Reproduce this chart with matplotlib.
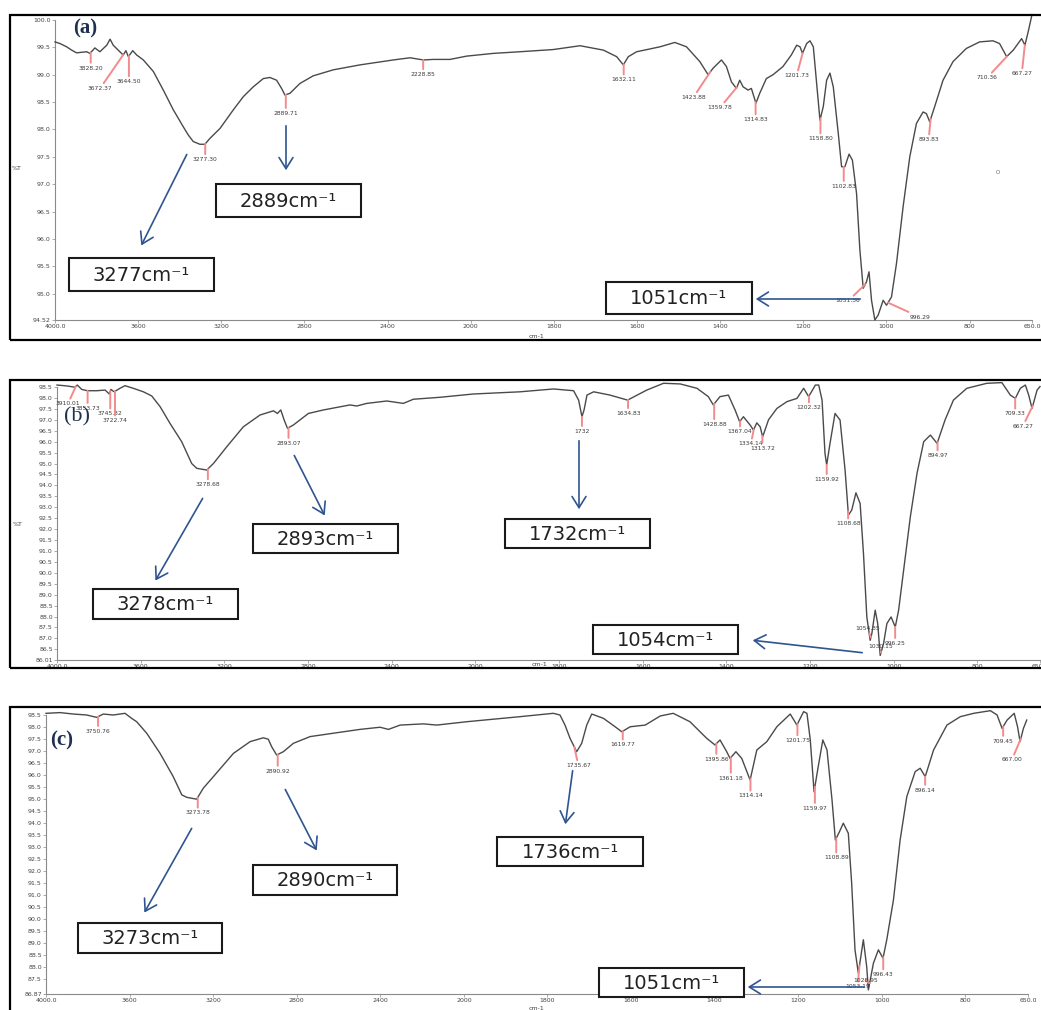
import numpy as np
import matplotlib
matplotlib.use("Agg")
import matplotlib.pyplot as plt
from matplotlib.patches import Rectangle, FancyArrowPatch

W, H = 1041, 1010

# ---- spectrum (a) ----
a_wn = [4000, 3976, 3944, 3920, 3896, 3848, 3832, 3808, 3784, 3751,
        3735, 3720, 3696, 3672, 3659, 3647, 3626, 3607, 3575, 3527,
        3479, 3431, 3383, 3359, 3335, 3303, 3279, 3254, 3206, 3142,
        3094, 3046, 2998, 2966, 2934, 2910, 2894, 2870, 2822, 2758,
        2661, 2533, 2373, 2292, 2228, 2180, 2100, 2020, 1946, 1882,
        1802, 1737, 1681, 1649, 1633, 1621, 1601, 1545, 1509, 1481,
        1449, 1429, 1417, 1397, 1385, 1373, 1361, 1353, 1345, 1333,
        1325, 1314, 1305, 1289, 1273, 1249, 1229, 1216, 1208, 1202,
        1192, 1184, 1176, 1168, 1160, 1152, 1144, 1136, 1128, 1116,
        1108, 1100, 1090, 1082, 1072, 1064, 1056, 1048, 1042, 1036,
        1028, 1020, 1008, 1000, 988, 976, 960, 944, 928, 912,
        904, 896, 884, 864, 840, 808, 776, 744, 728, 711,
        695, 675, 667, 659, 650]
a_T = [99.60, 99.57, 99.51, 99.45, 99.40, 99.42, 99.39, 99.49, 99.42, 99.54,
       99.65, 99.54, 99.45, 99.36, 99.44, 99.33, 99.44, 99.36, 99.27, 99.06,
       98.72, 98.36, 98.05, 97.90, 97.78, 97.73, 97.73, 97.84, 98.02, 98.36,
       98.60, 98.78, 98.93, 98.95, 98.90, 98.75, 98.63, 98.66, 98.84, 98.98,
       99.09, 99.18, 99.27, 99.31, 99.27, 99.28, 99.28, 99.34, 99.39, 99.42,
       99.46, 99.53, 99.45, 99.33, 99.18, 99.33, 99.42, 99.51, 99.59, 99.51,
       99.24, 99.00, 99.12, 99.27, 99.15, 98.87, 98.75, 98.90, 98.78, 98.72,
       98.75, 98.48, 98.66, 98.93, 99.00, 99.15, 99.36, 99.54, 99.51, 99.39,
       99.57, 99.62, 99.51, 98.84, 98.17, 98.42, 98.90, 99.03, 98.78, 97.93,
       97.32, 97.32, 97.55, 97.44, 96.83, 95.80, 95.10, 95.22, 95.40, 94.88,
       94.52, 94.61, 94.88, 94.79, 94.94, 95.55, 96.59, 97.50, 98.11, 98.32,
       98.29, 98.14, 98.42, 98.90, 99.24, 99.48, 99.60, 99.62, 99.57, 99.33,
       99.45, 99.66, 99.54, 99.79, 100.10]
a_pk_x = [3828.20, 3672.37, 3644.50, 3277.30, 2889.71, 2228.85, 1632.11, 1423.88,
          1359.78, 1314.83, 1201.73, 1158.80, 1102.83, 1051.36, 996.29, 893.83,
          710.36, 667.27]
a_pk_txt = ["3828.20", "3672.37", "3644.50", "3277.30", "2889.71", "2228.85",
            "1632.11", "1423.88", "1359.78", "1314.83", "1201.73", "1158.80",
            "1102.83", "1051.36", "996.29", "893.83", "710.36", "667.27"]

# ---- spectrum (b) ----
b_wn = [4000, 3954, 3914, 3903, 3882, 3855, 3810, 3770, 3750, 3742,
        3727, 3699, 3675, 3635, 3587, 3547, 3507, 3460, 3404, 3356,
        3332, 3284, 3252, 3188, 3109, 3029, 2965, 2946, 2930, 2914,
        2898, 2870, 2798, 2726, 2599, 2567, 2519, 2423, 2344, 2296,
        2168, 2009, 1893, 1813, 1765, 1753, 1745, 1740, 1733, 1717,
        1678, 1636, 1590, 1550, 1510, 1470, 1443, 1431, 1415, 1395,
        1379, 1368, 1359, 1343, 1335, 1327, 1319, 1313, 1299, 1279,
        1255, 1231, 1215, 1203, 1187, 1179, 1171, 1164, 1160, 1152,
        1140, 1128, 1116, 1108, 1100, 1090, 1080, 1072, 1064, 1056,
        1052, 1044, 1038, 1032, 1024, 1016, 1006, 996, 988, 976,
        960, 944, 928, 912, 896, 877, 857, 825, 777, 741,
        721, 709, 697, 685, 677, 669, 657, 650]
b_T = [98.59, 98.55, 98.49, 98.59, 98.39, 98.33, 98.33, 98.36, 98.18, 98.39,
       98.28, 98.44, 98.56, 98.44, 98.28, 98.09, 97.60, 96.84, 96.00, 95.00,
       94.78, 94.70, 95.00, 95.77, 96.68, 97.22, 97.41, 97.29, 97.45, 96.99,
       96.61, 96.76, 97.29, 97.45, 97.68, 97.63, 97.75, 97.86, 97.75, 97.94,
       98.03, 98.18, 98.28, 98.41, 98.33, 97.90, 97.14, 97.45, 98.13, 98.28,
       98.13, 97.90, 98.36, 98.67, 98.64, 98.44, 98.06, 97.68, 98.06, 98.13,
       97.45, 96.91, 97.14, 96.76, 96.53, 96.86, 96.68, 96.22, 97.00, 97.52,
       97.83, 97.98, 98.44, 98.06, 98.59, 98.59, 97.90, 95.46, 94.93, 95.92,
       97.29, 96.99, 94.70, 92.64, 92.87, 93.66, 93.17, 90.88, 87.98, 86.91,
       87.22, 88.29, 87.68, 86.22, 86.76, 87.68, 87.98, 87.52, 88.29, 90.12,
       92.56, 94.55, 96.00, 96.30, 95.92, 96.99, 97.90, 98.44, 98.67, 98.70,
       98.13, 97.98, 98.44, 98.59, 98.13, 97.52, 98.36, 98.52]
b_pk_x = [3910.01, 3853.73, 3745.32, 3722.74, 3278.68, 2893.07, 1745, 1634.83,
          1428.88, 1367.04, 1334.14, 1313.72, 1202.32, 1159.92, 1108.68, 1054.35,
          1030.15, 996.25, 894.97, 709.33, 667.27]
b_pk_txt = ["3910.01", "3853.73", "3745.32", "3722.74", "3278.68", "2893.07",
            "1732", "1634.83", "1428.88", "1367.04", "1334.14", "1313.72",
            "1202.32", "1159.92", "1108.68", "1054.35", "1030.15", "996.25",
            "894.97", "709.33", "667.27"]

# ---- spectrum (c) ----
c_wn = [4000, 3933, 3869, 3805, 3757, 3726, 3678, 3622, 3590, 3566,
        3518, 3454, 3391, 3350, 3327, 3279, 3247, 3199, 3103, 3023,
        2960, 2936, 2920, 2896, 2864, 2816, 2736, 2625, 2497, 2401,
        2361, 2305, 2194, 2130, 1993, 1866, 1786, 1770, 1758, 1746,
        1730, 1718, 1706, 1694, 1666, 1638, 1622, 1602, 1566, 1530,
        1499, 1459, 1419, 1399, 1387, 1371, 1363, 1349, 1335, 1315,
        1299, 1275, 1251, 1219, 1203, 1187, 1179, 1171, 1162, 1152,
        1141, 1131, 1119, 1111, 1101, 1092, 1080, 1072, 1064, 1056,
        1044, 1036, 1032, 1020, 1008, 997, 988, 972, 956, 940,
        920, 908, 896, 876, 844, 812, 780, 740, 724, 712,
        700, 683, 675, 669, 661, 653]
c_T = [98.57, 98.60, 98.54, 98.50, 98.40, 98.54, 98.50, 98.57, 98.36, 98.22,
       97.74, 96.90, 95.93, 95.17, 95.07, 94.99, 95.45, 95.93, 96.90, 97.39,
       97.55, 97.49, 97.18, 96.83, 96.97, 97.32, 97.60, 97.74, 97.90, 97.99,
       97.90, 98.08, 98.13, 98.08, 98.22, 98.43, 98.57, 98.50, 98.08, 97.53,
       96.97, 97.32, 98.08, 98.54, 98.36, 98.01, 97.80, 98.01, 98.08, 98.46,
       98.57, 98.22, 97.53, 97.25, 97.46, 96.97, 96.69, 96.97, 96.69, 95.79,
       97.04, 97.39, 98.01, 98.54, 98.08, 98.64, 98.57, 97.46, 95.30, 96.35,
       97.46, 97.04, 94.96, 93.29, 93.64, 93.99, 93.57, 91.49, 88.71, 87.74,
       89.13, 88.01, 87.04, 88.15, 88.71, 88.36, 89.13, 90.79, 93.29, 95.10,
       96.14, 96.28, 95.93, 97.04, 98.08, 98.43, 98.57, 98.68, 98.50, 97.94,
       98.29, 98.57, 98.01, 97.39, 97.94, 98.29]
c_pk_x = [3750.76, 3273.78, 2890.92, 1735.67, 1619.77, 1395.86, 1361.18, 1314.14,
          1201.75, 1159.97, 1108.89, 1053.19, 1028.95, 996.43, 896.14, 709.45, 667.00]
c_pk_txt = ["3750.76", "3273.78", "2890.92", "1735.67", "1619.77", "1395.86",
            "1361.18", "1314.14", "1201.75", "1159.97", "1108.89", "1053.19",
            "1028.95", "996.43", "896.14", "709.45", "667.00"]

x_ticks = [4000, 3600, 3200, 2800, 2400, 2000, 1800, 1600, 1400, 1200, 1000, 800, 650]
x_tick_lbl = ["4000.0", "3600", "3200", "2800", "2400", "2000", "1800", "1600",
              "1400", "1200", "1000", "800", "650.0"]
a_yticks = [100.0, 99.5, 99.0, 98.5, 98.0, 97.5, 97.0, 96.5, 96.0, 95.5, 95.0, 94.52]
b_yticks = [98.5, 98.0, 97.5, 97.0, 96.5, 96.0, 95.5, 95.0, 94.5, 94.0, 93.5, 93.0,
            92.5, 92.0, 91.5, 91.0, 90.5, 90.0, 89.5, 89.0, 88.5, 88.0, 87.5, 87.0,
            86.5, 86.01]
c_yticks = [98.5, 98.0, 97.5, 97.0, 96.5, 96.0, 95.5, 95.0, 94.5, 94.0, 93.5, 93.0,
            92.5, 92.0, 91.5, 91.0, 90.5, 90.0, 89.5, 89.0, 88.5, 88.0, 87.5, 86.87]

a_calls = ["3277cm⁻¹", "2889cm⁻¹", "1051cm⁻¹"]
b_calls = ["3278cm⁻¹", "2893cm⁻¹", "1732cm⁻¹", "1054cm⁻¹"]
c_calls = ["3273cm⁻¹", "2890cm⁻¹", "1736cm⁻¹", "1051cm⁻¹"]

# layout (pixels from the top-left corner)
a_pk_off = [(0, -13), (-23, -31), (0, -23), (0, -13), (0, -16), (0, -12), (0, -13),
            (-17, -23), (-17, -18), (0, -15), (-6, -20), (0, -18), (0, -17),
            (-17, -14), (32, -12), (-2, -18), (-20, -19), (-3, -26)]
b_pk_off = [(-8, -15), (0, -15), (0, -20), (0, -27), (0, -13), (0, -13), (0, -12),
            (0, -11), (0, -18), (0, -8), (-3, -12), (0, -10), (0, -9), (0, -12),
            (0, -10), (-3, 12), (0, 9), (0, -14), (0, -11), (0, -13), (-10, -18)]
c_pk_off = [(0, -12), (0, -13), (0, -14), (4, -16), (0, -11), (0, -13), (0, -18),
            (0, -15), (0, -14), (0, -19), (0, -17), (-2, -19), (-4, 5), (0, -15),
            (0, -11), (0, -12), (-9, -19)]

a_boxes = [(69, 258, 214, 291), (216, 184, 361, 217), (606, 282, 752, 314)]
b_boxes = [(93, 589, 238, 619), (253, 524, 398, 553), (505, 519, 650, 548), (593, 625, 738, 654)]
c_boxes = [(78, 923, 222, 953), (253, 865, 397, 895), (497, 837, 643, 866), (599, 968, 744, 997)]
a_arrows = [((188, 152), (140, 248)), ((286, 123), (286, 173)), ((863, 299), (753, 299))]
b_arrows = [((204, 496), (154, 583)), ((293, 453), (326, 518)), ((579, 438), (579, 512)),
            ((865, 653), (750, 640))]
c_arrows = [((193, 826), (143, 915)), ((284, 787), (318, 853)), ((573, 768), (565, 827)),
            ((867, 987), (745, 987))]

RED = "#f28b8b"
BLUE = "#2f5590"
GRAY = "#8a8a8a"


def fwd(x):
    x = np.asarray(x, dtype=float)
    return np.where(x >= 2000, x, 2 * x - 2000)


def inv(y):
    y = np.asarray(y, dtype=float)
    return np.where(y >= 2000, y, (y + 2000) / 2)


def P(x, y):
    return x / W, 1 - y / H


fig = plt.figure(figsize=(W / 100, H / 100), dpi=100)


def panel(l, r, t, b, ylim, yticks, wn, T, pk_x, pk_txt, pk_off):
    ax = fig.add_axes([l / W, 1 - b / H, (r - l) / W, (b - t) / H])
    ax.set_xscale("function", functions=(fwd, inv))
    ax.set_xlim(4000, 650)
    ax.set_ylim(*ylim)
    ax.plot(wn, T, color="#4a4a4a", lw=1.0, clip_on=False, zorder=3)
    for s in ("top", "right"):
        ax.spines[s].set_visible(False)
    for s in ("left", "bottom"):
        ax.spines[s].set_color(GRAY)
        ax.spines[s].set_linewidth(0.8)
    ax.set_xticks(x_ticks)
    ax.set_xticklabels(x_tick_lbl)
    ax.set_yticks(yticks)
    ax.set_yticklabels([f"{v:.2f}" if round(v * 2) != v * 2 else f"{v:.1f}" for v in yticks])
    ax.tick_params(length=2, width=0.5, color=GRAY, labelsize=4.5,
                   labelcolor="#444444", pad=1)
    ax.patch.set_alpha(0)
    wr, Tr = np.array(wn[::-1], float), np.array(T[::-1], float)
    for x, txt, (dx, dy) in zip(pk_x, pk_txt, pk_off):
        y = np.interp(x, wr, Tr)
        ax.annotate(txt, xy=(x, y), xytext=(dx, dy), textcoords="offset pixels",
                    ha="center", va="top", fontsize=4.3, color="#3a3a3a",
                    annotation_clip=False, zorder=4,
                    arrowprops=dict(arrowstyle="-", color=RED, lw=1.4,
                                    shrinkA=0, shrinkB=0))
    return ax


def callouts(boxes, arrows, texts):
    for (x0, y0, x1, y1), txt in zip(boxes, texts):
        fig.add_artist(Rectangle(P(x0, y1), (x1 - x0) / W, (y1 - y0) / H,
                                 transform=fig.transFigure, fc="white",
                                 ec="#1a1a1a", lw=1.5, zorder=5))
        fig.text(*P((x0 + x1) / 2, (y0 + y1) / 2 + 1), txt, ha="center", va="center",
                 fontsize=14, color="#222222", zorder=6)
    for tail, head in arrows:
        fig.add_artist(FancyArrowPatch(P(*tail), P(*head), transform=fig.transFigure,
                                       arrowstyle="->,head_length=0.4,head_width=0.25",
                                       mutation_scale=20, color=BLUE, lw=1.2, zorder=5))


# panel frames
for (x0, y0, y1) in [(10, 15, 340), (10, 380, 668), (10, 707, 1015)]:
    fig.add_artist(Rectangle(P(x0, y1), (1046 - x0) / W, (y1 - y0) / H,
                             transform=fig.transFigure, fill=False, ec="black", lw=1.6))

panel(55, 1032, 20, 320, (94.52, 100.0), a_yticks, a_wn, a_T, a_pk_x, a_pk_txt, a_pk_off)
panel(57, 1040, 387, 660, (86.01, 98.5), b_yticks, b_wn, b_T, b_pk_x, b_pk_txt, b_pk_off)
panel(46, 1028, 715, 994, (86.87, 98.5), c_yticks, c_wn, c_T, c_pk_x, c_pk_txt, c_pk_off)

callouts(a_boxes, a_arrows, a_calls)
callouts(b_boxes, b_arrows, b_calls)
callouts(c_boxes, c_arrows, c_calls)

# panel letters, axis labels
fig.text(*P(85, 28), "(a)", ha="center", va="center", fontsize=15, fontweight="bold",
         family="Liberation Serif", color="#1f3050")
fig.text(*P(77, 417), "(b)", ha="center", va="center", fontsize=16,
         family="Liberation Serif", color="#1f3050")
fig.text(*P(62, 740), "(c)", ha="center", va="center", fontsize=15, fontweight="bold",
         family="Liberation Serif", color="#1f3050")
for (x, y) in [(17, 169), (18, 524)]:
    fig.text(*P(x, y), "%T", ha="center", va="center", fontsize=4.5, color="#444444")
for (x, y) in [(537, 336), (540, 664), (537, 1008)]:
    fig.text(*P(x, y), "cm-1", ha="center", va="center", fontsize=4.5, color="#444444")
fig.text(*P(998, 172), "O", ha="center", va="center", fontsize=4, color="#666666")

fig.savefig("out.png", dpi=100)
